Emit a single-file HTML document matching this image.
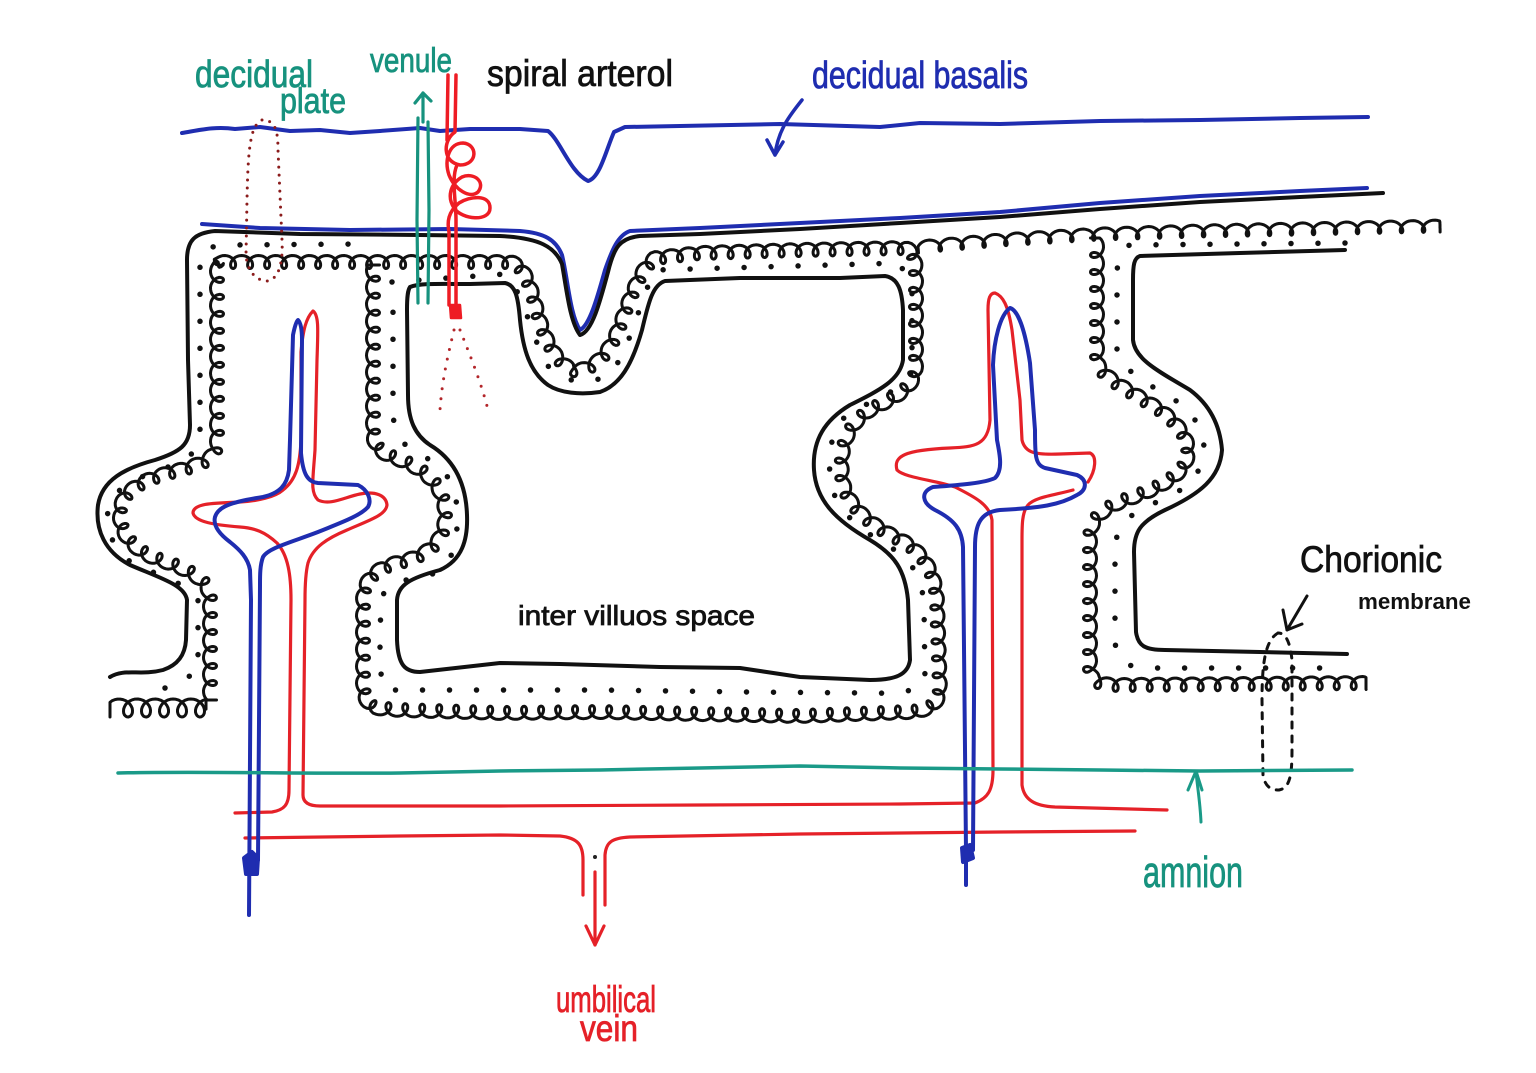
<!DOCTYPE html>
<html><head><meta charset="utf-8">
<style>
html,body{margin:0;padding:0;background:#fff;}
svg{display:block;}
text{font-family:"Liberation Sans",sans-serif;}
</style></head><body>
<svg id="s" width="1536" height="1073" viewBox="0 0 1536 1073" xmlns="http://www.w3.org/2000/svg">
<rect width="1536" height="1073" fill="#fff"/>
<g fill="none" stroke-linecap="round" stroke-linejoin="round">

<!-- decidual basalis top blue line -->
<path stroke="#1f2db0" stroke-width="4" d="M182,133 C200,130 215,126 235,129 L260,127 L290,131 L320,130 L350,133 L380,131 L420,128 L440,131 L470,129 L520,129 L548,131 C560,140 570,172 588,181 C600,178 606,150 614,132 L625,127 L680,126 L780,124 L880,127 L920,123 L1000,124 L1100,121 L1200,120 L1300,118 L1368,117"/>
<!-- arrow decidual basalis -->
<path stroke="#1f2db0" stroke-width="3.5" d="M802,100 C790,115 778,130 775,155 M767,140 L775,155 L783,142"/>

<!-- second blue line -->
<path stroke="#1f2db0" stroke-width="4" d="M202,224 L260,228 L350,230 L450,229 L520,231 C545,233 556,240 562,255 C568,280 570,315 580,330 C590,325 598,295 605,270 C612,250 618,235 630,231 L700,228 L800,223 L900,218 L1000,212 L1100,203 L1200,196 L1300,191 L1367,188"/>

<!-- outer black line A -->
<path stroke="#111" stroke-width="4" d="M110,677 C125,668 140,676 163,670 C178,665 185,655 186,640 L187,600 C185,585 160,578 130,565 C105,552 95,530 98,505 C102,480 125,468 155,460 C180,452 190,445 190,425 L188,360 L187,260 C187,240 195,233 215,231 L300,234 L420,235 L500,236 C540,238 555,247 562,264 C567,292 570,322 580,335 C592,332 600,302 608,272 C614,247 620,238 640,236 L700,234 L800,229 L900,223 L1000,217 L1100,209 L1200,202 L1300,197 L1383,193"/>

<!-- inner black B -->
<path stroke="#111" stroke-width="4" d="M410,287 C420,283 440,284 470,284 L505,283 C515,285 518,295 520,320 C523,350 530,372 548,385 C560,393 580,395 600,392 C620,385 632,365 642,330 C648,305 652,285 665,281 L740,278 L840,278 L885,276 C898,278 902,290 903,310 L903,360 C900,380 880,390 850,405 C825,420 812,440 814,470 C816,500 835,520 870,540 C895,555 905,570 908,600 L910,660 C908,675 895,680 870,680 L800,677 L740,668 L660,667 L560,664 L500,663 L420,672 C405,672 398,665 397,640 L397,600 C398,585 410,578 440,570 C462,560 468,540 467,515 C466,485 455,460 430,445 C415,435 408,420 408,395 L407,310 C407,295 408,290 410,287 Z"/>

<!-- right villus inner black -->
<path stroke="#111" stroke-width="4" d="M1345,250 L1240,253 L1140,256 C1134,258 1133,265 1133,280 L1133,340 C1135,360 1160,372 1190,390 C1210,405 1220,425 1222,450 C1220,478 1200,494 1165,510 C1140,522 1134,532 1134,552 L1136,632 C1138,646 1145,650 1165,650 L1260,652 L1347,654"/>

<!-- loop base paths (converted by script) -->
<path id="c1" stroke="#111" stroke-width="2.5" d="M210,700 L210,600 C210,580 190,570 160,560 C130,550 118,530 120,510 C122,490 145,478 180,470 C205,463 217,458 217,440 L217,262 L380,262 L510,262 C525,265 530,285 537,310 C545,340 555,360 572,370 C592,372 608,355 618,330 C628,305 638,270 655,258 L700,253 L800,250 L905,248 C915,250 916,262 916,280 L916,370 C913,390 893,398 870,410 C848,425 840,445 842,475 C844,500 862,520 897,538 C922,550 935,570 937,600 L940,690 C938,705 930,710 910,712 L800,716 L700,714 L600,712 L500,713 L400,710 L375,708 C365,703 363,695 363,680 L363,600 C363,580 375,568 400,562 C430,555 445,540 445,515 C445,490 430,470 395,458 C378,452 373,445 373,430 L373,265"/>
<path id="c2" stroke="#111" stroke-width="2.5" d="M918,247 L1000,240 L1100,234 L1200,231 L1300,229 L1440,226"/>
<path id="c3" stroke="#111" stroke-width="2.5" d="M1097,238 L1097,360 C1100,378 1130,390 1160,410 C1180,425 1190,440 1188,455 C1185,475 1160,488 1125,500 C1100,510 1090,520 1090,540 L1090,670 C1092,682 1100,685 1120,685 L1366,683"/>
<path id="c4" stroke="#111" stroke-width="2.5" d="M110,708 L206,708"/>

<!-- dots -->
<g stroke="#111" stroke-width="5.5" stroke-dasharray="0 27">
<path d="M392,282 L505,274 C522,290 530,330 545,362 C560,384 590,386 610,374 C630,350 640,300 655,270 L900,263 L912,292 L912,372 C900,392 870,402 850,412 C832,427 828,450 830,475 C832,505 852,525 887,545 C912,560 922,576 924,606 L925,680 C922,690 902,694 872,693 L750,692 L600,690 L450,690 L385,690 C380,680 380,660 380,640 L381,600 C385,585 400,580 430,575 C455,565 458,540 457,510 C456,485 445,465 420,455 C400,445 393,430 393,410 L393,300"/>
<path d="M165,688 L198,672 L198,600 C190,585 160,575 135,565 C112,550 106,530 108,508 C112,490 135,478 165,468 C190,460 200,450 200,430 L200,260 C202,250 210,246 225,245 L360,244"/>
<path d="M1345,243 L1130,245 C1118,249 1117,262 1117,282 L1117,350 C1120,370 1150,385 1175,400 C1195,415 1204,430 1204,450 C1202,475 1187,490 1157,502 C1127,514 1115,527 1115,552 L1115,640 C1116,660 1125,668 1150,668 L1345,668"/>
</g>

<!-- left villus red -->
<path stroke="#e52128" stroke-width="3.2" d="M235,813 L272,812 C284,810 289,805 289,790 L291,600 C291,575 288,555 277,543 C265,532 255,528 240,527 C215,525 195,522 193,513 C193,503 215,503 240,502 C258,501 275,497 283,490 C296,480 300,465 301,440 L301,352 C303,330 306,318 313,311 C319,315 318,330 317,360 L315,450 C313,480 310,492 318,500 C330,506 345,497 360,494 C375,491 386,495 387,505 C386,515 370,520 347,530 C328,538 313,547 308,563 C305,575 305,590 305,600 L303,795 C303,803 310,806 320,806 L500,806 L700,805 L900,804 L975,803 C988,798 993,790 993,770 L992,520 C990,505 975,497 955,487 C935,480 905,478 897,470 C893,456 905,450 950,448 C975,447 988,445 990,420 L988,310 C988,298 990,293 995,293 C1003,296 1008,305 1012,330 L1020,400 L1022,440 C1025,453 1035,455 1060,454 L1090,453 C1097,456 1096,470 1088,482"/>
<path stroke="#e52128" stroke-width="3.2" d="M1073,490 C1055,495 1035,497 1028,505 C1022,512 1022,525 1022,540 L1022,785 C1024,800 1035,806 1055,807 L1167,810"/>
<!-- lower red line + umbilical -->
<path stroke="#e52128" stroke-width="3.2" d="M245,838 L400,836 L500,835 L560,836 C578,838 583,845 583,860 L583,895 M605,905 L605,855 C606,842 612,838 630,837 L800,834 L1000,832 L1135,831"/>
<path stroke="#e52128" stroke-width="3.2" d="M595,872 L595,945 M586,926 L595,945 L604,926"/>
<circle cx="595" cy="857" r="2" fill="#222"/>

<!-- left villus blue -->
<path stroke="#1f2db0" stroke-width="4" d="M249,915 L251,600 L250,570 C248,558 240,550 230,542 C218,533 213,525 215,517 C218,507 230,502 263,497 C280,493 287,485 289,470 L290,440 L293,335 C295,325 297,320 298,320 C301,323 302,330 302,340 L301,453 C303,475 308,482 318,483 L358,485 C368,490 372,500 368,507 C360,516 340,523 318,532 C292,542 268,548 263,557 C260,565 260,575 260,585 L258,860"/>
<path stroke="#1f2db0" stroke-width="4" fill="#1f2db0" d="M246,874 L244,858 L252,852 L258,858 L257,874 Z"/>
<!-- right villus blue -->
<path stroke="#1f2db0" stroke-width="4" d="M966,885 L966,850 L963,547 C962,530 955,520 935,510 C922,503 920,492 933,487 C960,485 985,483 995,478 C1003,470 1000,455 997,440 L993,365 C994,340 1000,315 1010,308 C1018,310 1025,330 1030,363 L1035,430 C1035,455 1035,465 1045,468 L1077,475 C1088,480 1087,490 1077,495 C1060,505 1040,508 1000,510 C980,512 975,525 975,547 L973,850"/>
<path stroke="#1f2db0" stroke-width="4" fill="#1f2db0" d="M963,862 L962,848 L970,845 L973,858 Z"/>

<!-- venule -->
<path stroke="#17927e" stroke-width="3.2" d="M418,303 L417,220 L418,118 M428,303 L429,210 L428,122 M423,122 L423,93 M415,103 L423,93 L431,101"/>

<!-- spiral arteriole -->
<path stroke="#ee1c24" stroke-width="3.5" d="M448,75 L447,140 M456,75 L455,132 C443,140 442,162 460,165 C478,165 478,144 463,143 C449,143 444,160 449,175 C455,190 470,199 478,192 C486,182 474,172 462,177 C450,184 447,197 454,208 C462,220 490,222 490,208 C490,194 470,196 459,203 C448,212 447,222 449,232 L449,305 M457,165 C451,178 456,200 456,220 L456,305"/>
<path stroke="#ee1c24" stroke-width="2.5" fill="#ee1c24" d="M450,305 L460,305 L461,318 L451,318 Z"/>
<path stroke="#b3262a" stroke-width="3" stroke-dasharray="0 10" d="M454,330 C448,355 442,380 440,410 M460,330 C470,355 482,385 488,410"/>

<!-- decidual plate dotted oval -->
<path stroke="#8b1c1c" stroke-width="3" stroke-dasharray="0 8" d="M262,120 C250,125 248,150 247,200 L246,255 C247,270 255,281 268,281 C280,278 283,260 282,240 L278,150 C278,130 275,120 262,120"/>

<!-- chorionic dashed oval + arrow -->
<path stroke="#111" stroke-width="3" stroke-dasharray="6 8" d="M1278,633 C1266,640 1262,660 1262,700 L1263,775 C1265,786 1270,790 1279,790 C1290,788 1292,775 1292,750 L1292,660 C1290,642 1286,633 1278,633"/>
<path stroke="#111" stroke-width="3" d="M1307,596 L1287,630 M1283,610 L1287,630 L1302,624"/>

<!-- amnion -->
<path stroke="#1a9a88" stroke-width="3.5" d="M118,773 C200,771 300,774 400,773 L500,771 L600,770 L700,768 L800,766 L900,768 L1000,769 L1100,770 L1200,771 L1352,770"/>
<path stroke="#1a9a88" stroke-width="3" d="M1201,822 C1200,800 1197,785 1196,771 M1188,790 L1196,771 L1202,790"/>
</g>

<!-- labels -->
<g stroke-width="0.8">
<text x="195" y="87" font-size="38" fill="#17927e" stroke="#17927e" textLength="118" lengthAdjust="spacingAndGlyphs">decidual</text>
<text x="280" y="113" font-size="36" fill="#17927e" stroke="#17927e" textLength="66" lengthAdjust="spacingAndGlyphs">plate</text>
<text x="370" y="72" font-size="34" fill="#17927e" stroke="#17927e" textLength="82" lengthAdjust="spacingAndGlyphs">venule</text>
<text x="487" y="86" font-size="37" fill="#111" stroke="#111" textLength="186" lengthAdjust="spacingAndGlyphs">spiral arterol</text>
<text x="812" y="88" font-size="38" fill="#1f2db0" stroke="#1f2db0" textLength="216" lengthAdjust="spacingAndGlyphs">decidual basalis</text>
<text x="518" y="625" font-size="28" fill="#111" stroke="#111" textLength="237" lengthAdjust="spacingAndGlyphs">inter villuos space</text>
<text x="1300" y="572" font-size="37" fill="#111" stroke="#111" textLength="142" lengthAdjust="spacingAndGlyphs">Chorionic</text>
<text x="1358" y="609" font-size="22" font-weight="bold" fill="#111" textLength="113" lengthAdjust="spacingAndGlyphs">membrane</text>
<text x="1143" y="887" font-size="44" fill="#17927e" stroke="#17927e" textLength="100" lengthAdjust="spacingAndGlyphs">amnion</text>
<text x="556" y="1012" font-size="37" fill="#e52128" stroke="#e52128" textLength="100" lengthAdjust="spacingAndGlyphs">umbilical</text>
<text x="580" y="1041" font-size="37" fill="#e52128" stroke="#e52128" textLength="58" lengthAdjust="spacingAndGlyphs">vein</text>
</g>
</svg>
<script>
(function(){
  var NS="http://www.w3.org/2000/svg";
  var specs=[["c1",17,6.5,1],["c2",22,6,1],["c3",17,6.5,1],["c4",18,9,1]];
  for(var k=0;k<specs.length;k++){
    var sp=specs[k];
    var p=document.getElementById(sp[0]); if(!p) continue;
    var L=p.getTotalLength(), lam=sp[1], b=sp[2], side=sp[3];
    var a=lam/(2*Math.PI), kk=b*0.95;
    var d="", th=0, step=0.25, first=true;
    while(a*th<=L+kk){
      var s=a*th-kk*Math.sin(th);
      if(s<0)s=0; if(s>L)s=L;
      var P=p.getPointAtLength(s);
      var P1=p.getPointAtLength(Math.max(0,s-1.5)), P2=p.getPointAtLength(Math.min(L,s+1.5));
      var tx=P2.x-P1.x, ty=P2.y-P1.y, n=Math.sqrt(tx*tx+ty*ty)||1;
      tx/=n; ty/=n;
      var nx=-ty, ny=tx, off=side*b*Math.cos(th);
      var x=P.x+nx*off, y=P.y+ny*off;
      d+=(first?"M":"L")+x.toFixed(1)+","+y.toFixed(1);
      first=false;
      th+=step;
    }
    var q=document.createElementNS(NS,"path");
    q.setAttribute("d",d);
    q.setAttribute("fill","none");
    q.setAttribute("stroke","#111");
    q.setAttribute("stroke-width","3");
    q.setAttribute("stroke-linejoin","round");
    p.parentNode.insertBefore(q,p);
    p.setAttribute("stroke","none");
  }
})();
</script>
</body></html>
